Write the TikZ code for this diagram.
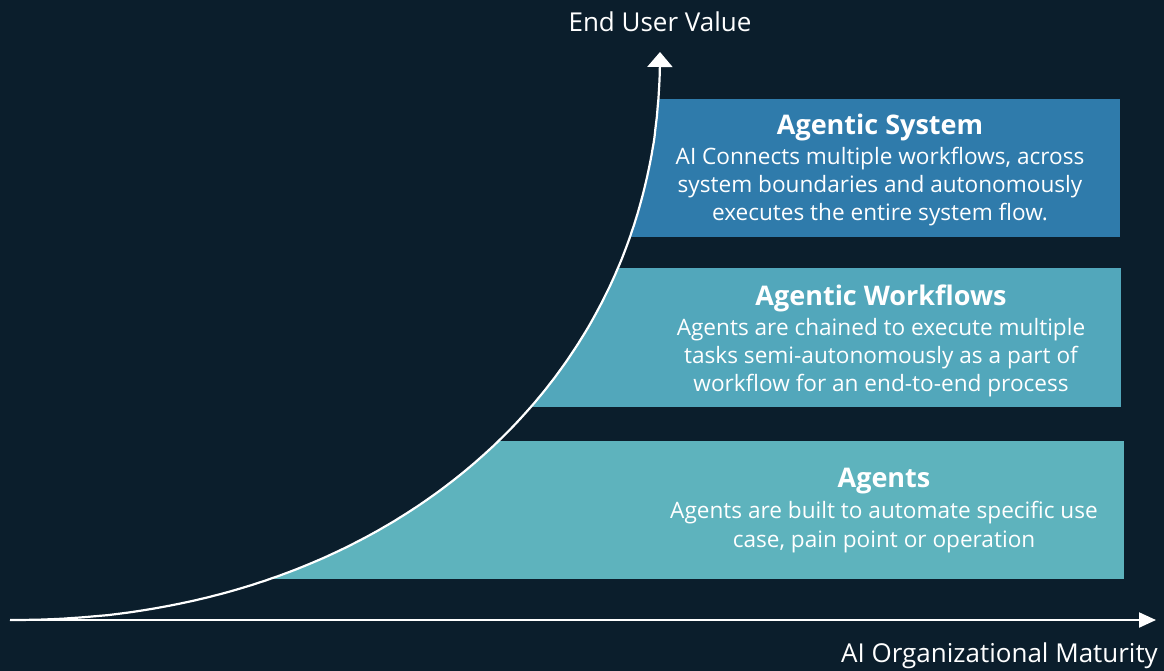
\documentclass[tikz,border=0pt]{standalone}
\usepackage{fontspec}
\setmainfont{Open Sans}
\usetikzlibrary{arrows.meta}
\definecolor{bg}{HTML}{0B1E2C}
\definecolor{sysc}{HTML}{2F7BAB}
\definecolor{wfc}{HTML}{52A7BB}
\definecolor{agc}{HTML}{5EB3BD}
\begin{document}
\begin{tikzpicture}[x=1pt,y=-1pt,
  ttl/.style={anchor=base, text=white, inner sep=0pt, font=\fontsize{27}{30}\selectfont\bfseries},
  bod/.style={anchor=base, text=white, inner sep=0pt, font=\fontsize{22.6}{28}\selectfont},
  axl/.style={anchor=base, text=white, inner sep=0pt, font=\fontsize{26}{30}\selectfont},
  axis/.style={white, line width=2.2pt}
]
\useasboundingbox (0,0) rectangle (1164,671);
\fill[bg] (0,0) rectangle (1164,671);
\coordinate (c0) at (10,620);
\coordinate (ytip) at (660,52);
\def\curve{(c0) -- plot[domain=0.5:89.5, samples=150, variable=\t] ({10+650*pow(sin(\t),0.952)}, {52+568*pow(cos(\t),0.952)}) -- (ytip)}
\begin{scope}
  \clip \curve -- (1164,52) -- (1164,640) -- (10,640) -- cycle;
  \fill[sysc] (560,99) rectangle (1120,237);
  \fill[wfc] (450,268) rectangle (1121,407);
  \fill[agc] (100,441) rectangle (1124,579);
\end{scope}
\draw[axis, line join=round, -{Triangle[width=25pt,length=15pt]}] \curve;
\coordinate (xe) at (1156,620);
\draw[axis, -{Triangle[width=15pt,length=17pt]}] (c0) -- (xe);
\node[axl] (yl) at (660,32) {End User Value};
\node[axl, anchor=base east] (xl) at (1158,662) {AI Organizational Maturity};
% Agentic System
\node[ttl] (s0) at (880,135) {Agentic System};
\node[bod] (s1) at (880,165) {AI Connects multiple workflows, across};
\node[bod] (s2) at (880,193) {system boundaries and autonomously};
\node[bod] (s3) at (880,221) {executes the entire system flow.};
% Agentic Workflows
\node[ttl] (w0) at (881,305) {Agentic Workflows};
\node[bod] (w1) at (881,335) {Agents are chained to execute multiple};
\node[bod] (w2) at (881,363) {tasks semi-autonomously as a part of};
\node[bod] (w3) at (881,391) {workflow for an end-to-end process};
% Agents
\node[ttl] (a0) at (884,487) {Agents};
\node[bod] (a1) at (884,518) {Agents are built to automate specific use};
\node[bod] (a2) at (884,547) {case, pain point or operation};
\end{tikzpicture}
\end{document}
